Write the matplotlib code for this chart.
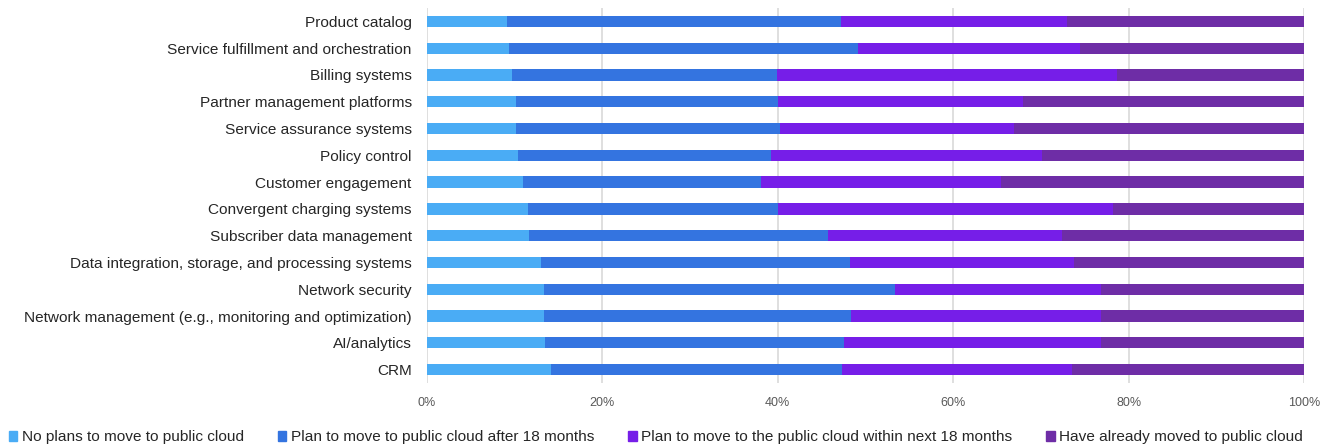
import numpy as np
import matplotlib.pyplot as plt
from matplotlib.patches import Patch

plt.rcParams['font.family'] = ['Liberation Sans', 'DejaVu Sans']

categories = [
    "Product catalog",
    "Service fulfillment and orchestration",
    "Billing systems",
    "Partner management platforms",
    "Service assurance systems",
    "Policy control",
    "Customer engagement",
    "Convergent charging systems",
    "Subscriber data management",
    "Data integration, storage, and processing systems",
    "Network security",
    "Network management (e.g., monitoring and optimization)",
    "AI/analytics",
    "CRM",
]

no_plans = [9.1, 9.4, 9.7, 10.1, 10.1, 10.4, 10.9, 11.5, 11.6, 13.0, 13.3, 13.3, 13.4, 14.1]
after_18 = [38.1, 39.7, 30.2, 29.9, 30.2, 28.8, 27.2, 28.5, 34.1, 35.2, 40.1, 35.1, 34.2, 33.2]
within_18 = [25.8, 25.4, 38.8, 28.0, 26.6, 30.9, 27.4, 38.2, 26.7, 25.6, 23.5, 28.5, 29.3, 26.3]
already = [27.0, 25.5, 21.3, 32.0, 33.1, 29.9, 34.5, 21.8, 27.6, 26.2, 23.1, 23.1, 23.1, 26.4]

series_names = [
    "No plans to move to public cloud",
    "Plan to move to public cloud after 18 months",
    "Plan to move to the public cloud within next 18 months",
    "Have already moved to public cloud",
]
colors = ["#4aacf5", "#3474e0", "#761ee8", "#6e2da6"]

fig = plt.figure(figsize=(13.2, 4.45), dpi=100)
ax = fig.add_axes([427 / 1320, 1 - 383 / 445, 877 / 1320, 375 / 445])

y = np.arange(len(categories))
left = np.zeros(len(categories))
for vals, c in zip([no_plans, after_18, within_18, already], colors):
    ax.barh(y, vals, left=left, height=0.42, color=c, zorder=3)
    left += np.array(vals)

ax.set_ylim(len(categories) - 0.5, -0.5)
ax.set_xlim(0, 100)
ax.set_yticks(y)
ax.set_yticklabels(categories, fontsize=11.1, color="#262626")
ax.set_xticks(np.arange(0, 101, 20))
ax.set_xticklabels([f"{v}%" for v in range(0, 101, 20)], fontsize=9, color="#595959")
ax.tick_params(axis="both", length=0)
ax.tick_params(axis="y", pad=11)
ax.tick_params(axis="x", pad=10)
ax.xaxis.grid(True, color="#d9d9d9", linewidth=1.2, zorder=0)
for s in ax.spines.values():
    s.set_visible(False)

handles = [Patch(color=c) for c in colors]
fig.legend(handles, series_names, loc="lower center", bbox_to_anchor=(0.497, -0.03),
           ncol=4, frameon=False, fontsize=11.1, handlelength=0.55, handleheight=0.55,
           handletextpad=0.3, columnspacing=2.2, labelcolor="#262626")

fig.savefig("out.png", dpi=100)
